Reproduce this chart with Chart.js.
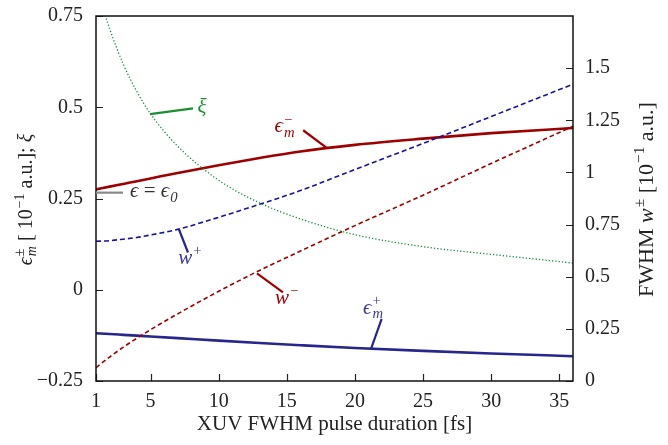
<!DOCTYPE html>
<html>
<head>
<meta charset="utf-8">
<script src="https://cdn.jsdelivr.net/npm/chart.js@4.4.1/dist/chart.umd.min.js"></script>
<style>
  html, body { margin: 0; padding: 0; background: #fff; }
  #wrap { width: 668px; height: 445px; }
</style>
</head>
<body>
<div id="wrap"><canvas id="c"></canvas></div>
<script>
// XUV FWHM pulse duration [fs]
const duration = [1, 2, 3, 4, 5, 7, 10, 13, 16, 20, 25, 30, 36];

// left axis series
const epsMinus = [0.275, 0.2825, 0.290, 0.2975, 0.305, 0.320, 0.341, 0.361, 0.379, 0.397, 0.414, 0.429, 0.443];
const epsPlus = [-0.119, -0.1212, -0.1235, -0.1258, -0.128, -0.1325, -0.1395, -0.146, -0.152, -0.1595, -0.1675, -0.1748, -0.182];
const xi = [0.83, 0.715, 0.618, 0.543, 0.482, 0.393, 0.300, 0.238, 0.194, 0.151, 0.118, 0.097, 0.073];

// right axis series
const wPlus = [0.670, 0.673, 0.680, 0.688, 0.700, 0.727, 0.785, 0.847, 0.913, 1.014, 1.139, 1.268, 1.423];
const wMinus = [0.064, 0.115, 0.162, 0.205, 0.246, 0.322, 0.430, 0.530, 0.623, 0.745, 0.891, 1.043, 1.221];

const xTicks = [1, 5, 10, 15, 20, 25, 30, 35];
const leftTicks = [-0.25, 0, 0.25, 0.5, 0.75];
const rightTicks = [0, 0.25, 0.5, 0.75, 1, 1.25, 1.5];

const RED = '#9e0000';
const BLUE = '#1414a0';
const NAVY = '#26268c';
const GREEN = '#1a9032';
const SERIF = "'Liberation Serif', 'DejaVu Serif', serif";

const pts = (ys) => duration.map((x, i) => ({ x, y: ys[i] }));
const fmt = (v) => (v < 0 ? '\u2212' + String(-v) : String(v));

// --- little rich-text helper (italic, sub/superscripts) ---
function fnt(size, it) {
  return (it ? 'italic ' : '') + size + 'px ' + SERIF;
}
function partsWidth(ctx, parts, size) {
  let w = 0;
  parts.forEach((p) => {
    ctx.font = fnt(size, p.it);
    w += ctx.measureText(p.t).width;
    let s = 0;
    if (p.sub) { ctx.font = fnt(size * 0.7, true); s = ctx.measureText(p.sub).width; }
    if (p.sup) { ctx.font = fnt(size * 0.7, false); s = Math.max(s, ctx.measureText(p.sup).width); }
    if (s) w += s + 1;
  });
  return w;
}
function drawParts(ctx, x, y, parts, size) {
  ctx.textBaseline = 'alphabetic';
  ctx.textAlign = 'left';
  parts.forEach((p) => {
    ctx.font = fnt(size, p.it);
    ctx.fillText(p.t, x, y);
    x += ctx.measureText(p.t).width;
    let s = 0;
    if (p.sub) {
      ctx.font = fnt(size * 0.7, true);
      ctx.fillText(p.sub, x + 1, y + size * 0.22);
      s = ctx.measureText(p.sub).width;
    }
    if (p.sup) {
      ctx.font = fnt(size * 0.7, false);
      ctx.fillText(p.sup, x + 1, y - size * 0.42);
      s = Math.max(s, ctx.measureText(p.sup).width);
    }
    if (s) x += s + 1;
  });
}

// labels with leader lines, placed in data units
const notes = [
  { axis: 'y', color: GREEN, at: [8.45, 0.483], from: [4.96, 0.481], to: [8.12, 0.497],
    parts: [{ t: '\u03BE', it: true }] },
  { axis: 'y', color: RED, at: [14.1, 0.431], from: [16.2, 0.437], to: [17.95, 0.388],
    parts: [{ t: '\u03F5', it: true, sub: 'm', sup: '\u2212' }] },
  { axis: 'y', color: '#333', lineColor: '#8a8a8a', at: [3.5, 0.253], from: [1, 0.266], to: [2.98, 0.266],
    parts: [{ t: '\u03F5', it: true }, { t: ' = ' }, { t: '\u03F5', it: true, sub: '0' }] },
  { axis: 'y', color: '#3a3a9c', lineColor: NAVY, at: [7.04, 0.071], from: [7.09, 0.165], to: [7.75, 0.102],
    parts: [{ t: 'w', it: true, sup: '+' }] },
  { axis: 'y', color: RED, at: [14.13, -0.038], from: [12.81, 0.045], to: [14.72, -0.007],
    parts: [{ t: 'w', it: true, sup: '\u2212' }] },
  { axis: 'y', color: '#3a3a9c', lineColor: NAVY, at: [20.6, -0.066], from: [21.18, -0.162], to: [21.96, -0.080],
    parts: [{ t: '\u03F5', it: true, sub: 'm', sup: '+' }] },
];

const leftTitle = [
  { t: '\u03F5', it: true, sub: 'm', sup: '\u00B1' },
  { t: ' [ 10', sup: '\u22121' },
  { t: ' a.u.]; ' },
  { t: '\u03BE', it: true },
];
const rightTitle = [
  { t: 'FWHM ' },
  { t: 'w', it: true, sup: '\u00B1' },
  { t: ' [10', sup: '\u22121' },
  { t: ' a.u.]' },
];

const frame = {
  id: 'frame',
  afterDatasetsDraw(chart) {
    const { ctx, chartArea: a, scales } = chart;
    ctx.save();
    ctx.strokeStyle = '#222';
    ctx.lineWidth = 1.2;
    ctx.beginPath();
    xTicks.forEach((v) => {
      const px = Math.round(scales.x.getPixelForValue(v)) + 0.5;
      ctx.moveTo(px, a.bottom);
      ctx.lineTo(px, a.bottom - 7);
    });
    leftTicks.forEach((v) => {
      const py = Math.round(scales.y.getPixelForValue(v)) + 0.5;
      ctx.moveTo(a.left, py);
      ctx.lineTo(a.left + 7, py);
    });
    rightTicks.forEach((v) => {
      const py = Math.round(scales.y1.getPixelForValue(v)) + 0.5;
      ctx.moveTo(a.right, py);
      ctx.lineTo(a.right - 7, py);
    });
    ctx.stroke();
    ctx.strokeStyle = '#111';
    ctx.lineWidth = 1.5;
    ctx.strokeRect(a.left, a.top, a.width, a.height);

    // leaders + labels
    notes.forEach((n) => {
      const sy = scales[n.axis];
      ctx.strokeStyle = n.lineColor || n.color;
      ctx.lineWidth = 2.2;
      ctx.beginPath();
      ctx.moveTo(scales.x.getPixelForValue(n.from[0]), sy.getPixelForValue(n.from[1]));
      ctx.lineTo(scales.x.getPixelForValue(n.to[0]), sy.getPixelForValue(n.to[1]));
      ctx.stroke();
      ctx.fillStyle = n.color;
      drawParts(ctx, scales.x.getPixelForValue(n.at[0]), sy.getPixelForValue(n.at[1]), n.parts, 21);
    });

    // axis titles
    ctx.fillStyle = '#222';
    const midY = (a.top + a.bottom) / 2;
    [[leftTitle, 32, 20], [rightTitle, 653, 22]].forEach(([parts, bx, size]) => {
      ctx.save();
      ctx.translate(bx, midY + 1);
      ctx.rotate(-Math.PI / 2);
      drawParts(ctx, -partsWidth(ctx, parts, size) / 2, 0, parts, size);
      ctx.restore();
    });
    ctx.restore();
  },
};

const tickFont = { family: SERIF, size: 20 };
const noGrid = { display: false, drawTicks: false };

new Chart(document.getElementById('c'), {
  type: 'line',
  data: {
    datasets: [
      { data: pts(xi), yAxisID: 'y', borderColor: GREEN, borderWidth: 1.3, borderDash: [1.3, 2] },
      { data: pts(wPlus), yAxisID: 'y1', borderColor: BLUE, borderWidth: 1.6, borderDash: [5, 3] },
      { data: pts(wMinus), yAxisID: 'y1', borderColor: RED, borderWidth: 1.6, borderDash: [4.5, 3] },
      { data: pts(epsMinus), yAxisID: 'y', borderColor: RED, borderWidth: 2.6 },
      { data: pts(epsPlus), yAxisID: 'y', borderColor: NAVY, borderWidth: 2.6 },
    ],
  },
  options: {
    responsive: true,
    maintainAspectRatio: false,
    animation: false,
    devicePixelRatio: 1,
    layout: { padding: { top: 16, left: 0, right: 0, bottom: 0 } },
    elements: {
      point: { radius: 0, hoverRadius: 0 },
      line: { cubicInterpolationMode: 'monotone', fill: false },
    },
    plugins: { legend: { display: false }, tooltip: { enabled: false } },
    scales: {
      x: {
        type: 'linear',
        min: 1,
        max: 36,
        afterBuildTicks: (s) => { s.ticks = xTicks.map((value) => ({ value })); },
        afterFit: (s) => { s.height = 64; s.paddingLeft = 0; s.paddingRight = 0; },
        grid: noGrid,
        border: { display: false },
        ticks: { color: '#222', font: tickFont, padding: 9, maxRotation: 0 },
        title: {
          display: true,
          text: 'XUV FWHM pulse duration [fs]',
          color: '#222',
          font: { family: SERIF, size: 21 },
          padding: { top: 0, bottom: 8 },
        },
      },
      y: {
        position: 'left',
        min: -0.25,
        max: 0.75,
        afterBuildTicks: (s) => { s.ticks = leftTicks.map((value) => ({ value })); },
        afterFit: (s) => { s.width = 96; s.paddingTop = 0; s.paddingBottom = 0; },
        grid: noGrid,
        border: { display: false },
        ticks: { color: '#222', font: tickFont, padding: 13, callback: fmt },
      },
      y1: {
        position: 'right',
        min: 0,
        max: 1.75,
        afterBuildTicks: (s) => { s.ticks = rightTicks.map((value) => ({ value })); },
        afterFit: (s) => { s.width = 95; s.paddingTop = 0; s.paddingBottom = 0; },
        grid: noGrid,
        border: { display: false },
        ticks: { color: '#222', font: tickFont, padding: 12, callback: fmt },
      },
    },
  },
  plugins: [frame],
});
</script>
</body>
</html>
